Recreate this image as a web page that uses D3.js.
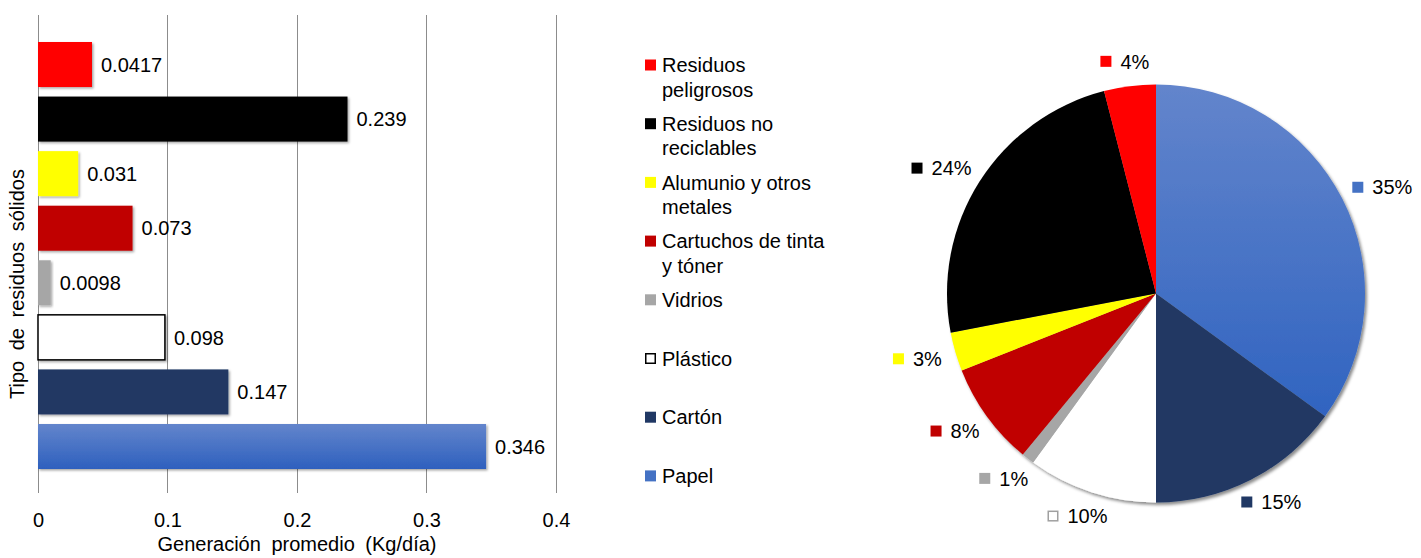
<!DOCTYPE html>
<html>
<head>
<meta charset="utf-8">
<script src="https://cdn.jsdelivr.net/npm/d3@7"></script>
<style>
  html, body { margin: 0; padding: 0; background: #fff; }
  svg { display: block; font-family: "Liberation Sans", Arial, Helvetica, sans-serif; }
</style>
</head>
<body>
<svg id="chart" width="1421" height="558"></svg>
<script>
// Solid waste categories, top to bottom in the bar chart
const categories = [
  "Residuos peligrosos",
  "Residuos no reciclables",
  "Alumunio y otros metales",
  "Cartuchos de tinta y tóner",
  "Vidrios",
  "Plástico",
  "Cartón",
  "Papel"
];
// Legend wording, wrapped as printed
const legendLines = [
  ["Residuos", "peligrosos"],
  ["Residuos no", "reciclables"],
  ["Alumunio y otros", "metales"],
  ["Cartuchos de tinta", "y tóner"],
  ["Vidrios"],
  ["Plástico"],
  ["Cartón"],
  ["Papel"]
];
// Average generation (kg/day)
const generation = [0.0417, 0.239, 0.031, 0.073, 0.0098, 0.098, 0.147, 0.346];
// Share of total (%)
const sharePct = [4, 24, 3, 8, 1, 10, 15, 35];
// X axis ticks
const xTicks = [0, 0.1, 0.2, 0.3, 0.4];

const colors = {
  "Residuos peligrosos": "#ff0000",
  "Residuos no reciclables": "#000000",
  "Alumunio y otros metales": "#ffff00",
  "Cartuchos de tinta y tóner": "#c00000",
  "Vidrios": "#a6a6a6",
  "Plástico": "#ffffff",
  "Cartón": "#203864",
  "Papel": "url(#blueGrad)"
};
const swatch = {
  "Papel": "#4472c4"
};

const svg = d3.select("#chart");
const FONT = 20;

// ---------- defs: gradients and shadows ----------
const defs = svg.append("defs");
const g1 = defs.append("linearGradient").attr("id", "blueGrad")
  .attr("x1", 0).attr("y1", 0).attr("x2", 0).attr("y2", 1);
g1.append("stop").attr("offset", "0%").attr("stop-color", "#6385cc");
g1.append("stop").attr("offset", "100%").attr("stop-color", "#2e60be");

const g2 = defs.append("linearGradient").attr("id", "blueGradPie")
  .attr("gradientUnits", "userSpaceOnUse")
  .attr("x1", 0).attr("y1", -209).attr("x2", 0).attr("y2", 130);
g2.append("stop").attr("offset", "0%").attr("stop-color", "#6385cc");
g2.append("stop").attr("offset", "100%").attr("stop-color", "#2f63c0");

const sh = defs.append("filter").attr("id", "shadow")
  .attr("x", "-10%").attr("y", "-10%").attr("width", "130%").attr("height", "130%");
sh.append("feDropShadow").attr("dx", 1.5).attr("dy", 1.5)
  .attr("stdDeviation", 1.2).attr("flood-color", "#000").attr("flood-opacity", 0.35);

const shPie = defs.append("filter").attr("id", "pieShadow")
  .attr("x", "-10%").attr("y", "-10%").attr("width", "125%").attr("height", "125%");
shPie.append("feDropShadow").attr("dx", 2).attr("dy", 2.5)
  .attr("stdDeviation", 1.8).attr("flood-color", "#000").attr("flood-opacity", 0.45);

// ---------- bar chart ----------
const plot = { left: 38, right: 556, top: 15, bottom: 493 };
const x = d3.scaleLinear().domain([0, 0.4]).range([plot.left, plot.right]);
const y = d3.scaleBand().domain(categories).range([17, 494])
  .paddingInner(0.175).paddingOuter(0.458);

// vertical gridlines
svg.append("g").selectAll("line").data(xTicks).join("line")
  .attr("x1", d => x(d)).attr("x2", d => x(d))
  .attr("y1", plot.top).attr("y2", plot.bottom)
  .attr("stroke", "#8c8c8c").attr("stroke-width", 1)
  .attr("shape-rendering", "crispEdges");

// x axis tick labels
const xAxis = d3.axisBottom(x).tickValues(xTicks).tickSize(0).tickPadding(0)
  .tickFormat(d => String(d));
svg.append("g").attr("transform", `translate(0, ${plot.bottom + 20})`).call(xAxis)
  .call(g => g.select(".domain").remove())
  .call(g => g.selectAll("text").attr("font-size", FONT).attr("fill", "#000")
    .attr("font-family", "Liberation Sans, Arial, sans-serif"));

// bars
svg.append("g").selectAll("rect").data(categories).join("rect")
  .attr("x", x(0))
  .attr("y", d => y(d))
  .attr("width", (d, i) => x(generation[i]) - x(0))
  .attr("height", y.bandwidth())
  .attr("fill", d => colors[d])
  .attr("stroke", d => d === "Plástico" ? "#000" : "none")
  .attr("stroke-width", d => d === "Plástico" ? 1.5 : 0)
  .attr("filter", "url(#shadow)");

// value labels
svg.append("g").selectAll("text").data(categories).join("text")
  .attr("x", (d, i) => x(generation[i]) + 9)
  .attr("y", d => y(d) + y.bandwidth() / 2)
  .attr("dy", "0.36em")
  .attr("font-size", FONT)
  .text((d, i) => String(generation[i]));

// axis titles
svg.append("text")
  .attr("x", (plot.left + plot.right) / 2).attr("y", 551)
  .attr("text-anchor", "middle").attr("font-size", FONT)
  .attr("word-spacing", 5)
  .text("Generación promedio (Kg/día)");

svg.append("text")
  .attr("transform", "translate(24, 284) rotate(-90)")
  .attr("text-anchor", "middle").attr("font-size", FONT)
  .attr("word-spacing", 5)
  .text("Tipo de residuos sólidos");

// ---------- legend ----------
const legend = svg.append("g").attr("transform", "translate(645, 65)");
const rowStep = 58.7, lineStep = 24.5;
const items = legend.selectAll("g").data(categories).join("g")
  .attr("transform", (d, i) => `translate(0, ${i * rowStep})`);
items.append("rect")
  .attr("x", d => d === "Plástico" ? 0.75 : 0)
  .attr("y", d => d === "Plástico" ? -4.75 : -5.5)
  .attr("width", d => d === "Plástico" ? 9.5 : 11)
  .attr("height", d => d === "Plástico" ? 9.5 : 11)
  .attr("fill", d => swatch[d] || colors[d])
  .attr("stroke", d => d === "Plástico" ? "#000" : "none")
  .attr("stroke-width", 1.5);
items.each(function (d, i) {
  const t = d3.select(this).append("text").attr("x", 17).attr("font-size", FONT);
  legendLines[i].forEach((line, k) => {
    t.append("tspan").attr("x", 17).attr("y", k * lineStep).attr("dy", "0.36em").text(line);
  });
});

// ---------- pie chart ----------
const cx = 1156, cy = 293.5, R = 209;
const pieOrder = categories.slice().reverse();      // Papel first, clockwise from 12 o'clock
const pieVals = sharePct.slice().reverse();
const pie = d3.pie().sort(null).value(d => d.v);
const arcs = pie(pieOrder.map((c, i) => ({ c, v: pieVals[i] })));
const arc = d3.arc().innerRadius(0).outerRadius(R);

const pieG = svg.append("g").attr("transform", `translate(${cx}, ${cy})`);
pieG.append("g").attr("filter", "url(#pieShadow)")
  .selectAll("path").data(arcs).join("path")
  .attr("d", arc)
  .attr("fill", d => d.data.c === "Papel" ? "url(#blueGradPie)" : colors[d.data.c]);

// percentage labels, outside each slice
const labelOffset = 15;
const labels = pieG.append("g").selectAll("g").data(arcs).join("g");
labels.each(function (d) {
  const g = d3.select(this);
  const t = g.append("text").attr("font-size", FONT).attr("dy", "0.36em").text(d.data.v + "%");
  const w = 20 + t.node().getComputedTextLength();
  const h = 20;
  const a = (d.startAngle + d.endAngle) / 2;
  const ux = Math.sin(a), uy = -Math.cos(a);
  const px = (R + labelOffset) * ux, py = (R + labelOffset) * uy;
  const gx = px + ux * w / 2, gy = py + uy * h / 2;
  const left = gx - w / 2;
  const isWhite = d.data.c === "Plástico";
  g.insert("rect", "text")
    .attr("x", left + (isWhite ? 0.75 : 0)).attr("y", gy - (isWhite ? 4.75 : 5.5))
    .attr("width", isWhite ? 9.5 : 11).attr("height", isWhite ? 9.5 : 11)
    .attr("fill", swatch[d.data.c] || colors[d.data.c])
    .attr("stroke", isWhite ? "#a0a0a0" : "none").attr("stroke-width", 1.5);
  t.attr("x", left + 20).attr("y", gy);
});
</script>
</body>
</html>
